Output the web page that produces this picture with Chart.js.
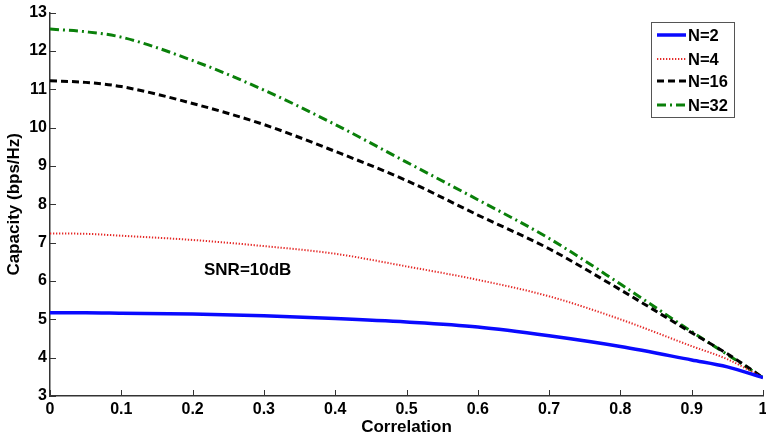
<!DOCTYPE html>
<html>
<head>
<meta charset="utf-8">
<script src="https://cdn.jsdelivr.net/npm/chart.js@4.4.1/dist/chart.umd.min.js"></script>
<style>
  html, body { margin: 0; padding: 0; background: #fff; }
  #wrap { width: 766px; height: 439px; position: relative; }
</style>
</head>
<body>
<div id="wrap"><canvas id="chart-capacidad"></canvas></div>
<script>
// Capacidad vs correlación, SNR = 10 dB
const correlacion = [0, 0.05, 0.1, 0.2, 0.3, 0.4, 0.5, 0.6, 0.7, 0.8, 0.9, 0.95, 1];
const capN2  = [5.17, 5.17, 5.16, 5.14, 5.09, 5.02, 4.93, 4.80, 4.57, 4.29, 3.94, 3.76, 3.48];
const capN4  = [7.24, 7.23, 7.18, 7.07, 6.91, 6.71, 6.38, 6.03, 5.60, 5.00, 4.30, 3.96, 3.48];
const capN16 = [11.22, 11.18, 11.07, 10.63, 10.08, 9.38, 8.62, 7.72, 6.84, 5.77, 4.65, 4.10, 3.48];
const capN32 = [12.57, 12.50, 12.36, 11.75, 10.98, 10.08, 9.10, 8.12, 7.11, 5.92, 4.68, 4.08, 3.48];
const etiquetas = ['N=2', 'N=4', 'N=16', 'N=32'];
const textoSNR = 'SNR=10dB';

const FUENTE = "'Liberation Sans', Arial, sans-serif";
Chart.defaults.font.family = FUENTE;
Chart.defaults.color = '#000';

const puntos = (ys) => correlacion.map((x, i) => ({ x: x, y: ys[i] }));

// Marcas de eje hacia dentro, leyenda con marco y texto de SNR
const extras = {
    id: 'extras',
    afterDraw(chart) {
        const { ctx, chartArea, scales } = chart;
        const sx = scales.x, sy = scales.y;
        ctx.save();
        ctx.strokeStyle = '#333';
        ctx.lineWidth = 1;
        ctx.beginPath();
        sx.ticks.forEach(t => {
            const px = Math.round(sx.getPixelForValue(t.value)) + 0.5;
            ctx.moveTo(px, chartArea.bottom);
            ctx.lineTo(px, chartArea.bottom - 6);
        });
        sy.ticks.forEach(t => {
            const py = Math.round(sy.getPixelForValue(t.value)) + 0.5;
            ctx.moveTo(chartArea.left, py);
            ctx.lineTo(chartArea.left + 6, py);
        });
        ctx.stroke();

        // texto SNR
        ctx.fillStyle = '#000';
        ctx.font = 'bold 17px ' + FUENTE;
        ctx.textAlign = 'left';
        ctx.textBaseline = 'middle';
        ctx.fillText(textoSNR, sx.getPixelForValue(0.216), sy.getPixelForValue(6.29));

        // leyenda
        const lx = 651, ly = 22, lw = 83, lh = 95;
        ctx.fillStyle = '#fff';
        ctx.fillRect(lx, ly, lw, lh);
        ctx.strokeStyle = '#555';
        ctx.lineWidth = 1;
        ctx.strokeRect(lx + 0.5, ly + 0.5, lw, lh);
        const filas = [35, 59, 81, 105];
        chart.data.datasets.forEach((ds, i) => {
            const y = filas[i];
            ctx.beginPath();
            ctx.strokeStyle = ds.borderColor;
            ctx.lineWidth = ds.borderWidth;
            ctx.setLineDash(ds.borderDash || []);
            ctx.moveTo(657, y);
            ctx.lineTo(686, y);
            ctx.stroke();
            ctx.setLineDash([]);
            ctx.fillStyle = '#000';
            ctx.font = 'bold 16.5px ' + FUENTE;
            ctx.fillText(ds.label, 688, y + 1);
        });
        ctx.restore();
    }
};

new Chart(document.getElementById('chart-capacidad'), {
    type: 'line',
    data: {
        datasets: [
            { label: etiquetas[0], data: puntos(capN2), borderColor: '#0a0aff', borderWidth: 3.5, borderDash: [] },
            { label: etiquetas[1], data: puntos(capN4), borderColor: '#e52a28', borderWidth: 2, borderDash: [1.3, 1.7] },
            { label: etiquetas[2], data: puntos(capN16), borderColor: '#000', borderWidth: 3, borderDash: [7, 4] },
            { label: etiquetas[3], data: puntos(capN32), borderColor: '#0a800a', borderWidth: 3, borderDash: [9, 4, 2, 4] }
        ]
    },
    options: {
        responsive: true,
        maintainAspectRatio: false,
        animation: false,
        events: [],
        elements: {
            point: { radius: 0 },
            line: { cubicInterpolationMode: 'monotone', fill: false }
        },
        layout: { padding: { top: 11, right: 0, left: 0, bottom: 0 } },
        plugins: {
            legend: { display: false },
            tooltip: { enabled: false }
        },
        scales: {
            x: {
                type: 'linear',
                min: 0, max: 1,
                grid: { display: false, drawTicks: false },
                border: { display: true, color: '#333', width: 1.5 },
                ticks: {
                    stepSize: 0.1,
                    padding: 4,
                    font: { size: 16, weight: 'bold' },
                    color: '#000',
                    maxRotation: 0,
                    callback: v => String(Math.round(v * 10) / 10)
                },
                title: {
                    display: true, text: 'Correlation',
                    font: { size: 17, weight: 'bold' }, color: '#000',
                    padding: { top: 0, bottom: 1 }
                },
                afterFit: s => { s.height = 43; s.paddingRight = 3; }
            },
            y: {
                min: 3, max: 13,
                grid: { display: false, drawTicks: false },
                border: { display: true, color: '#333', width: 1.5 },
                ticks: {
                    stepSize: 1,
                    padding: 3,
                    font: { size: 16, weight: 'bold' },
                    color: '#000'
                },
                title: {
                    display: true, text: 'Capacity (bps/Hz)',
                    font: { size: 17, weight: 'bold' }, color: '#000',
                    padding: { top: 4, bottom: 0 }
                },
                afterFit: s => { s.width = 50; }
            }
        }
    },
    plugins: [extras]
});
</script>
</body>
</html>
